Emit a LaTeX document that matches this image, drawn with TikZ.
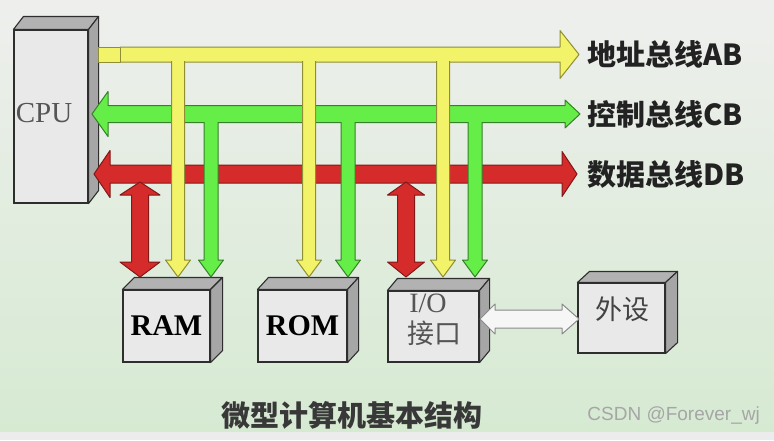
\documentclass[tikz,border=0pt]{standalone}
\usepackage{fontspec}
\setmainfont{Liberation Serif}
\newfontfamily\cjk{Noto Sans CJK SC}
\newfontfamily\wmfont{Liberation Sans}
\usetikzlibrary{calc}
\definecolor{ink}{HTML}{222222}
\definecolor{greyTxt}{HTML}{555555}
\definecolor{bgTop}{HTML}{EEEFED}
\definecolor{bgBot}{HTML}{D6EAD2}
\definecolor{bgStrip}{HTML}{ECECEC}
\definecolor{boxLine}{HTML}{2E2E2E}
\definecolor{boxFront}{HTML}{E9E9E9}
\definecolor{boxTop}{HTML}{B2B2B2}
\definecolor{boxSide}{HTML}{A6A6A6}
\definecolor{adrC}{HTML}{F3F36A}
\definecolor{adrD}{HTML}{8E8E34}
\definecolor{ctlC}{HTML}{66EE48}
\definecolor{ctlD}{HTML}{358028}
\definecolor{datC}{HTML}{D62B2B}
\definecolor{datD}{HTML}{821818}
\definecolor{ioC}{HTML}{F6F6F6}
\definecolor{ioD}{HTML}{8A8A8A}
\tikzset{
  unit/.style={draw=boxLine,fill=boxFront,line width=1.1pt,inner sep=0pt},
  topface/.style={draw=boxLine,fill=boxTop,line width=1.1pt,line join=round},
  sideface/.style={draw=boxLine,fill=boxSide,line width=1.1pt,line join=round},
  abus/.style={fill=adrC,draw=adrD,line width=1pt,line join=round},
  cbus/.style={fill=ctlC,draw=ctlD,line width=1pt,line join=round},
  dbus/.style={fill=datC,draw=datD,line width=1pt,line join=round},
  iobus/.style={fill=ioC,draw=ioD,line width=1pt,line join=round},
  buslab/.style={font=\cjk\fontsize{29}{31}\selectfont\bfseries,text=ink,anchor=west,inner sep=0pt},
  memlab/.style={font=\fontsize{30}{32}\selectfont\bfseries,text=black},
  cpulab/.style={font=\fontsize{29}{31}\selectfont,text=greyTxt,inner sep=0pt},
  iolab/.style={font=\cjk\fontsize{27}{29}\selectfont,text=greyTxt,inner sep=0pt},
  title/.style={font=\cjk\fontsize{29}{31}\selectfont\bfseries,text=ink!90,inner sep=0pt},
  wmark/.style={font=\wmfont\fontsize{19}{21}\selectfont,text=black!35,inner sep=0pt,anchor=east}}
% fat arrow, open at its start: style, from, to, half shaft, half head, head length
\newcommand\fatarrow[6]{%
  \coordinate (fa-b) at ($(#3)!#6!(#2)$);
  \fill[#1,draw=none] ($(#2)!#4!90:(#3)$) -- ($(fa-b)!#4!-90:(#2)$) -- ($(fa-b)!#5!-90:(#2)$) -- (#3)
    -- ($(fa-b)!#5!90:(#2)$) -- ($(fa-b)!#4!90:(#2)$) -- ($(#2)!#4!-90:(#3)$) -- cycle;
  \draw[#1,fill=none] ($(#2)!#4!90:(#3)$) -- ($(fa-b)!#4!-90:(#2)$) -- ($(fa-b)!#5!-90:(#2)$) -- (#3)
    -- ($(fa-b)!#5!90:(#2)$) -- ($(fa-b)!#4!90:(#2)$) -- ($(#2)!#4!-90:(#3)$);}
% fat arrow with two heads: style, from, to, half shaft, half head/length at from, half head/length at to
\newcommand\fatboth[8]{%
  \coordinate (fa-a) at ($(#2)!#6!(#3)$);
  \coordinate (fa-b) at ($(#3)!#8!(#2)$);
  \filldraw[#1] (#2) -- ($(fa-a)!#5!90:(#3)$) -- ($(fa-a)!#4!90:(#3)$) -- ($(fa-b)!#4!-90:(#2)$)
    -- ($(fa-b)!#7!-90:(#2)$) -- (#3) -- ($(fa-b)!#7!90:(#2)$) -- ($(fa-b)!#4!90:(#2)$)
    -- ($(fa-a)!#4!-90:(#3)$) -- ($(fa-a)!#5!-90:(#3)$) -- cycle;}
% top and right faces of a box node
\newcommand\faces[3]{%
  \filldraw[topface] (#1.north west) -- ++(#2,-#3) -- ($(#1.north east)+(#2,-#3)$) -- (#1.north east) -- cycle;
  \filldraw[sideface] (#1.north east) -- ++(#2,-#3) -- ($(#1.south east)+(#2,-#3)$) -- (#1.south east) -- cycle;}
\begin{document}
\begin{tikzpicture}[x=1pt,y=-1pt]
\useasboundingbox (0,0) rectangle (774,440);
\fill[bgStrip] (0,0) rectangle (774,440);
\shade[top color=bgTop,bottom color=bgBot] (0,0) rectangle (774,431);
\node[unit,minimum width=74pt,minimum height=173pt] (cpu) at (51,116.5) {};
\faces{cpu}{10}{13}
\node[cpulab] (cpuT) at (44,113) {CPU};
\node[unit,memlab,minimum width=87pt,minimum height=72pt] (ram) at (166.5,326) {RAM};
\faces{ram}{12}{12}
\node[unit,memlab,minimum width=89pt,minimum height=72pt] (rom) at (302.5,326) {ROM};
\faces{rom}{11}{12}
\node[unit,minimum width=91pt,minimum height=71pt] (io) at (433.5,326.5) {};
\faces{io}{10}{12}
\node[cpulab,font=\fontsize{28}{30}\selectfont] (ioA) at (428,303) {I/O};
\node[iolab] (ioB) at (434,333) {接口};
\node[unit,minimum width=87pt,minimum height=70pt] (dev) at (621.5,318) {};
\faces{dev}{12}{11}
\node[iolab,text=ink!85] (devT) at (622,309) {外设};
\coordinate (ab-w) at (120,54.5);  \coordinate (ab-e) at (579,54.5);
\coordinate (cb-w) at (92,114);    \coordinate (cb-e) at (580,114);
\coordinate (db-w) at (94,174);    \coordinate (db-e) at (577,174);
\fatarrow{abus}{ab-w}{ab-e}{7.5pt}{24pt}{19pt}
\filldraw[abus] (98,47) rectangle (120,62);
\fatboth{cbus}{cb-w}{cb-e}{8.5pt}{22.5pt}{16pt}{14pt}{15pt}
\fatboth{dbus}{db-w}{db-e}{9pt}{23.5pt}{16pt}{22.5pt}{15pt}
\node[buslab] (abT) at (587,54) {地址总线AB};
\node[buslab] (cbT) at (587,114) {控制总线CB};
\node[buslab] (dbT) at (587,174) {数据总线DB};
\coordinate (ramD0) at (140,182);  \coordinate (ramD) at (140,277);
\coordinate (ioD0) at (406,182);   \coordinate (ioD) at (406,277);
\fatboth{dbus}{ramD0}{ramD}{8.5pt}{20pt}{13pt}{20pt}{15pt}
\fatboth{dbus}{ioD0}{ioD}{8.5pt}{18.5pt}{13pt}{18.5pt}{15pt}
\coordinate (ramC0) at (211,122);  \coordinate (ramC) at (211,277);
\coordinate (romC0) at (348,122);  \coordinate (romC) at (348,277);
\coordinate (ioC0) at (475,122);   \coordinate (ioC) at (475,277);
\fatarrow{cbus}{ramC0}{ramC}{7pt}{12.5pt}{17pt}
\fatarrow{cbus}{romC0}{romC}{7pt}{12.5pt}{17pt}
\fatarrow{cbus}{ioC0}{ioC}{7pt}{12.5pt}{17pt}
\coordinate (ramA0) at (178,61);   \coordinate (ramA) at (178,277);
\coordinate (romA0) at (309,61);   \coordinate (romA) at (309,277);
\coordinate (ioA0) at (443,61);    \coordinate (ioA) at (443,277);
\fatarrow{abus}{ramA0}{ramA}{6.5pt}{12.5pt}{17pt}
\fatarrow{abus}{romA0}{romA}{6.5pt}{12.5pt}{17pt}
\fatarrow{abus}{ioA0}{ioA}{6.5pt}{12.5pt}{17pt}
\coordinate (ioE) at (480,319);    \coordinate (devW) at (579,319);
\fatboth{iobus}{ioE}{devW}{9pt}{15pt}{15pt}{15pt}{17pt}
\node[title] (cap) at (352,415) {微型计算机基本结构};
\node[wmark] (wm) at (760,416) {CSDN @Forever\_wj};
\end{tikzpicture}
\end{document}
